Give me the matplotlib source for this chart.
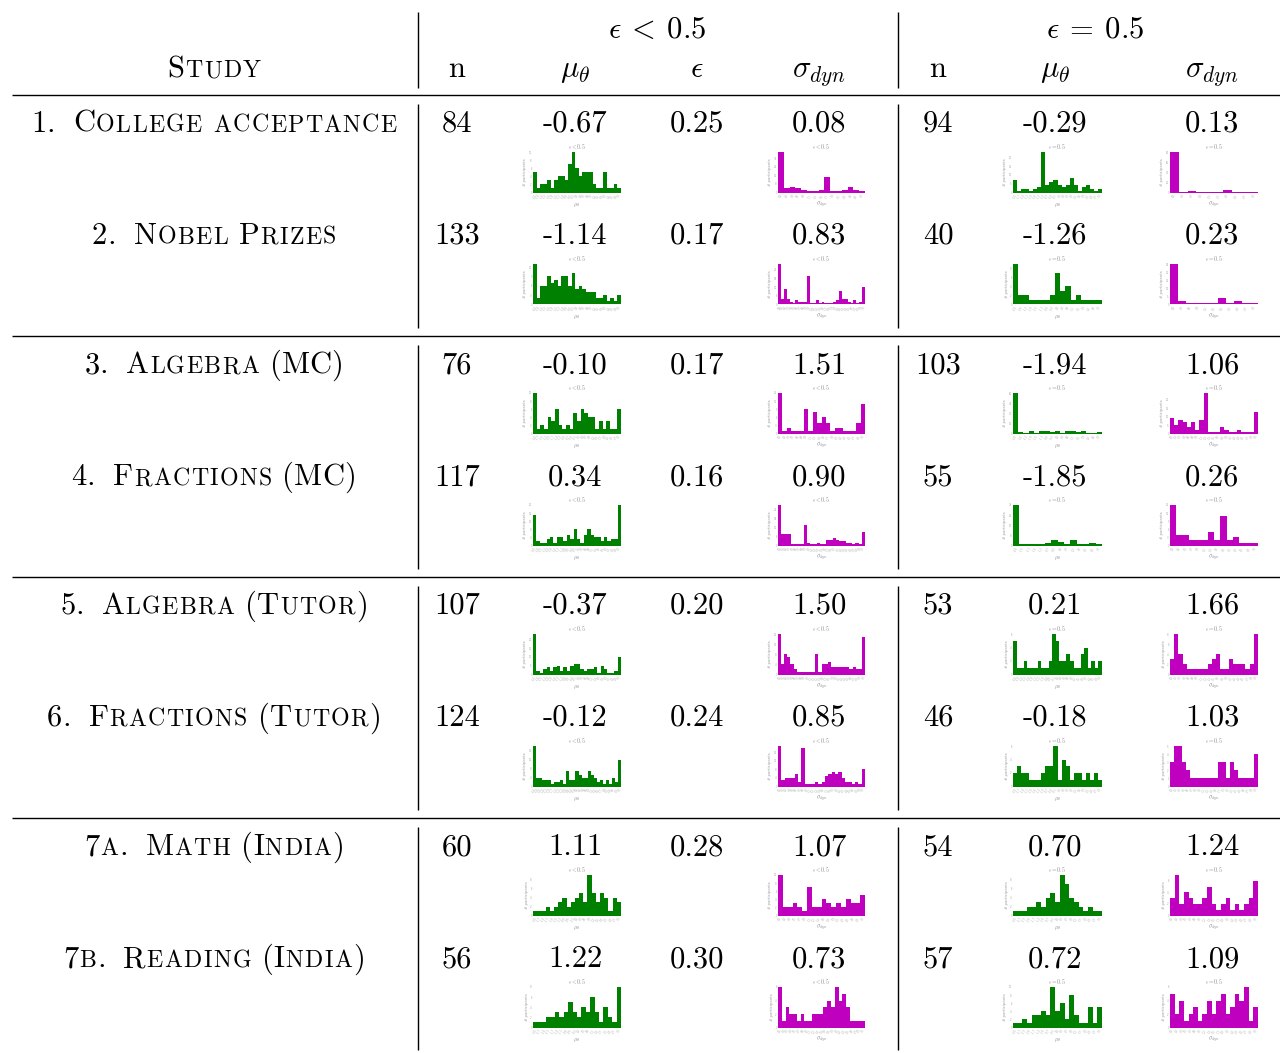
import numpy as np
import matplotlib

matplotlib.use("Agg")
import matplotlib.pyplot as plt
from matplotlib.ticker import MaxNLocator

plt.rcParams["mathtext.fontset"] = "cm"
plt.rcParams["axes.unicode_minus"] = False

W, H = 1280, 1053
FS = 22
GREY = "#8a8a8a"
GREEN = "#008000"
MAGENTA = "#bf00bf"

# table values
STUDIES = ["1. College acceptance", "2. Nobel Prizes", "3. Algebra (MC)",
           "4. Fractions (MC)", "5. Algebra (Tutor)", "6. Fractions (Tutor)",
           "7a. Math (India)", "7b. Reading (India)"]
N_LT = [84, 133, 76, 117, 107, 124, 60, 56]
MU_LT = [-0.67, -1.14, -0.10, 0.34, -0.37, -0.12, 1.11, 1.22]
EPS_LT = [0.25, 0.17, 0.17, 0.16, 0.20, 0.24, 0.28, 0.30]
SIG_LT = [0.08, 0.83, 1.51, 0.90, 1.50, 0.85, 1.07, 0.73]
N_EQ = [94, 40, 103, 55, 53, 46, 54, 57]
MU_EQ = [-0.29, -1.26, -1.94, -1.85, 0.21, -0.18, 0.70, 0.72]
SIG_EQ = [0.13, 0.23, 1.06, 0.26, 1.66, 1.03, 1.24, 1.09]

# histogram counts (participants per bin)
college_mu_lt = [5, 1, 2, 2, 3, 1, 3, 4, 4, 3, 7, 10, 6, 4, 5, 5, 5, 2, 1, 1, 5, 1, 1, 2, 1]
college_sig_lt = [38, 4, 5, 4, 2, 1, 1, 2, 15, 1, 1, 2, 5, 2, 1]
college_mu_eq = [7, 1, 2, 2, 1, 2, 3, 23, 4, 6, 7, 4, 3, 4, 8, 4, 1, 3, 4, 2, 1, 2]
college_sig_eq = [80, 1, 3, 1, 1, 1, 4, 1, 1, 1]

nobel_mu_lt = [13, 2, 6, 6, 9, 7, 8, 6, 9, 9, 6, 10, 5, 6, 5, 4, 4, 4, 2, 2, 3, 1, 2, 1, 3]
nobel_sig_lt = [28, 4, 11, 4, 2, 1, 3, 2, 2, 2, 20, 1, 1, 3, 1, 2, 1, 1, 1, 2, 3, 9, 4, 4, 2,
                1, 3, 1, 2, 12]
nobel_mu_eq = [9, 2, 2, 1, 1, 1, 1, 2, 7, 3, 4, 1, 2, 1, 1, 1, 1]
nobel_sig_eq = [25, 2, 1, 1, 1, 1, 4, 1, 2, 1, 1]

algmc_mu_lt = [10, 1, 2, 1, 4, 3, 6, 2, 1, 2, 1, 5, 3, 6, 5, 4, 4, 1, 3, 1, 3, 1, 1, 6]
algmc_sig_lt = [15, 1, 2, 1, 1, 1, 9, 1, 8, 4, 6, 4, 1, 2, 2, 1, 1, 1, 4, 11]
algmc_mu_eq = [61, 2, 1, 4, 1, 4, 4, 2, 4, 1, 4, 4, 2, 4, 1, 1, 3]
algmc_sig_eq = [9, 5, 8, 7, 4, 7, 2, 8, 24, 1, 1, 1, 4, 2, 1, 1, 2, 1, 1, 1, 13]

fracmc_mu_lt = [15, 2, 1, 1, 3, 4, 1, 4, 4, 2, 5, 3, 8, 3, 1, 5, 8, 5, 4, 4, 2, 4, 2, 3, 3, 20]
fracmc_sig_lt = [27, 8, 8, 8, 1, 1, 1, 1, 14, 2, 1, 1, 2, 1, 1, 4, 4, 5, 4, 3, 3, 2, 2, 1, 2,
                 1, 9]
fracmc_mu_eq = [32, 1, 1, 1, 1, 2, 4, 3, 1, 4, 1, 1, 2, 1]
fracmc_sig_eq = [15, 4, 4, 2, 2, 2, 5, 2, 11, 2, 3, 1, 1, 1]

algtu_mu_lt = [23, 2, 1, 3, 4, 2, 4, 5, 2, 4, 2, 5, 6, 6, 3, 2, 3, 3, 4, 1, 5, 3, 1, 1, 2, 10]
algtu_sig_lt = [16, 4, 8, 7, 4, 2, 1, 1, 1, 1, 1, 1, 8, 1, 4, 4, 5, 3, 3, 3, 3, 3, 3, 2, 3,
                2, 2, 15]
algtu_mu_eq = [5, 1, 1, 2, 1, 1, 1, 2, 1, 1, 2, 6, 5, 2, 2, 3, 2, 1, 1, 3, 4, 1, 2, 1, 2]
algtu_sig_eq = [3, 8, 4, 2, 1, 1, 1, 1, 1, 2, 3, 4, 1, 1, 3, 2, 2, 2, 1, 2, 8]

fractu_mu_lt = [18, 4, 4, 3, 3, 3, 1, 2, 2, 3, 1, 7, 3, 3, 7, 5, 4, 4, 7, 5, 4, 2, 3, 1, 3,
                1, 4, 2, 12]
fractu_sig_lt = [19, 3, 4, 4, 4, 6, 2, 18, 1, 1, 1, 2, 1, 2, 5, 6, 7, 6, 7, 4, 2, 2, 1, 2, 1, 8]
fractu_mu_eq = [2, 3, 2, 2, 1, 1, 1, 2, 3, 3, 6, 1, 4, 3, 1, 2, 2, 1, 2, 1, 2, 1]
fractu_sig_eq = [3, 5, 5, 3, 2, 1, 1, 1, 1, 1, 1, 1, 3, 3, 1, 3, 2, 1, 1, 1, 1, 4]

math_mu_lt = [1, 1, 1, 2, 1, 2, 3, 4, 2, 3, 4, 5, 3, 9, 5, 3, 5, 4, 1, 4, 3]
math_sig_lt = [10, 2, 2, 3, 2, 1, 7, 2, 2, 4, 3, 2, 3, 2, 4, 3, 3, 5]
math_mu_eq = [1, 1, 1, 2, 2, 3, 2, 4, 5, 3, 9, 7, 4, 3, 2, 1, 2, 1, 1]
math_sig_eq = [3, 7, 2, 4, 3, 2, 2, 3, 5, 2, 1, 2, 3, 1, 2, 1, 2, 3, 6]

read_mu_lt = [1, 1, 1, 2, 2, 3, 2, 3, 5, 3, 2, 4, 3, 6, 3, 1, 4, 2, 1, 8]
read_sig_lt = [6, 1, 3, 2, 2, 1, 2, 1, 1, 2, 2, 2, 3, 4, 3, 6, 4, 5, 3, 1, 1, 1, 1]
read_mu_eq = [1, 1, 2, 1, 3, 3, 4, 3, 10, 4, 6, 2, 8, 3, 1, 1, 5, 1, 5]
read_sig_eq = [5, 2, 4, 1, 2, 3, 1, 2, 4, 2, 4, 5, 2, 3, 5, 4, 6, 1, 3]

HISTS = [
    (college_mu_lt, college_sig_lt, college_mu_eq, college_sig_eq),
    (nobel_mu_lt, nobel_sig_lt, nobel_mu_eq, nobel_sig_eq),
    (algmc_mu_lt, algmc_sig_lt, algmc_mu_eq, algmc_sig_eq),
    (fracmc_mu_lt, fracmc_sig_lt, fracmc_mu_eq, fracmc_sig_eq),
    (algtu_mu_lt, algtu_sig_lt, algtu_mu_eq, algtu_sig_eq),
    (fractu_mu_lt, fractu_sig_lt, fractu_mu_eq, fractu_sig_eq),
    (math_mu_lt, math_sig_lt, math_mu_eq, math_sig_eq),
    (read_mu_lt, read_sig_lt, read_mu_eq, read_sig_eq),
]

ROW_Y = [122, 234, 363, 475, 604, 716, 845, 957]
COL_X = {"n1": 457, "mu1": 575, "eps": 697, "sig1": 819, "n2": 938, "mu2": 1055, "sig2": 1212}
HIST_X = [(533, 621), (778, 865), (1013, 1102), (1170, 1258)]

fig = plt.figure(figsize=(W / 100, H / 100), dpi=100)
ax = fig.add_axes([0, 0, 1, 1])
ax.set_xlim(0, W)
ax.set_ylim(H, 0)
ax.axis("off")
renderer = fig.canvas.get_renderer()
_cache = {}


def text_width(s, size):
    key = (s, size)
    if key not in _cache:
        t = ax.text(0, 0, s, fontsize=size, family="cmr10")
        _cache[key] = t.get_window_extent(renderer).width
        t.remove()
    return _cache[key]


def smallcaps(xc, yb, label, size, ratio=0.78, track=1.3, num_gap=18):
    # fake small caps: lowercase letters become smaller capitals, slightly tracked;
    # an enumeration prefix like "1." gets a wider gap before the name
    prefix, name = (label.split(" ", 1) + [""])[:2] if label[0].isdigit() else ("", label)
    parts = []  # (text, size, tracking, gap_after)
    if prefix:
        for ch in prefix:
            sz, c = (size * ratio, ch.upper()) if ch.islower() else (size, ch)
            parts.append([c, sz])
        parts[-1].append("num")
    for ch in name:
        sz, c = (size * ratio, ch.upper()) if ch.islower() else (size, ch)
        parts.append([c, sz])
    # merge into runs of equal size
    runs = []
    for p in parts:
        c, sz = p[0], p[1]
        brk = len(p) > 2
        if runs and runs[-1][1] == sz and not runs[-1][2]:
            runs[-1][0] += c
            runs[-1][2] = brk
        else:
            runs.append([c, sz, brk])
    widths, gaps = [], []
    for s, sz, brk in runs:
        tr = track if sz < size else 0.0
        widths.append(text_width(s, sz) + tr * (len(s) - 1))
        gaps.append(num_gap if brk else 0.8)
    total = sum(widths) + sum(gaps[:-1])
    x = xc - total / 2
    for (s, sz, brk), w, g in zip(runs, widths, gaps):
        tr = track if sz < size else 0.0
        for i, c in enumerate(s):
            if c == " ":
                continue
            off = text_width(s[: i + 1], sz) - text_width(c, sz) + tr * i
            ax.text(x + off, yb, c, fontsize=sz, family="cmr10", ha="left", va="baseline")
        x += w + g


def hist(x0, x1, ytop, ybot, counts, color, title, xlabel, lo, hi):
    hax = fig.add_axes([x0 / W, 1 - ybot / H, (x1 - x0) / W, (ybot - ytop) / H])
    idx = np.arange(len(counts))
    hax.bar(idx, counts, width=1.0, color=color, linewidth=0)
    hax.set_xlim(-0.5, len(counts) - 0.5)
    hax.set_ylim(0, max(counts))
    for sp in hax.spines.values():
        sp.set_visible(False)
    hax.tick_params(length=0, pad=0.8, labelsize=1.8, labelcolor="#a8a8a8")
    hax.set_xticks(idx)
    centers = np.linspace(lo, hi, len(counts))
    hax.set_xticklabels([f"{c:.1f}" for c in centers], rotation=60)
    yt = MaxNLocator(5, integer=True).tick_values(0, max(counts))
    yt = [v for v in yt if v <= max(counts)]
    hax.set_yticks(yt)
    hax.set_yticklabels([str(int(v)) for v in yt])
    hax.set_title(title, fontsize=4.2, color=GREY, pad=2.5)
    hax.set_xlabel(xlabel, fontsize=4.2, color=GREY, labelpad=0.8)
    hax.set_ylabel("# participants", fontsize=2.8, color="#a0a0a0", labelpad=1)


# header
ax.text(657, 38, r"$\epsilon \:<\: 0.5$", fontsize=FS, ha="center", va="baseline")
ax.text(1095, 38, r"$\epsilon \:=\: 0.5$", fontsize=FS, ha="center", va="baseline")
smallcaps(214, 77, "Study", FS)
hdr = [("n1", "n"), ("mu1", r"$\mu_\theta$"), ("eps", r"$\epsilon$"),
       ("sig1", r"$\sigma_{dyn}$"), ("n2", "n"), ("mu2", r"$\mu_\theta$"),
       ("sig2", r"$\sigma_{dyn}$")]
for key, lab in hdr:
    if lab == "n":
        ax.text(COL_X[key], 77, lab, fontsize=FS, family="cmr10", ha="center", va="baseline")
    else:
        ax.text(COL_X[key], 77, lab, fontsize=FS, ha="center", va="baseline")

# rules
for y in [95, 336, 577, 818]:
    ax.plot([12, W], [y, y], color="black", lw=1.0, solid_capstyle="butt")
for x in [418, 898]:
    for ya, yb in [(12, 88), (104, 328), (345, 569), (586, 810), (827, 1050)]:
        ax.plot([x, x], [ya, yb], color="black", lw=1.0, solid_capstyle="butt")

# body
for i, y in enumerate(ROW_Y):
    yb = y + 10
    smallcaps(214, yb, STUDIES[i], FS)
    vals = [("n1", f"{N_LT[i]}"), ("mu1", f"{MU_LT[i]:.2f}"), ("eps", f"{EPS_LT[i]:.2f}"),
            ("sig1", f"{SIG_LT[i]:.2f}"), ("n2", f"{N_EQ[i]}"), ("mu2", f"{MU_EQ[i]:.2f}"),
            ("sig2", f"{SIG_EQ[i]:.2f}")]
    for key, s in vals:
        ax.text(COL_X[key], yb, s, fontsize=FS, family="cmr10", ha="center", va="baseline")

    mu_lt, sig_lt, mu_eq, sig_eq = HISTS[i]
    ytop, ybot = y + 30, y + 70.5
    hist(*HIST_X[0], ytop, ybot, mu_lt, GREEN, r"$\epsilon < 0.5$", r"$\mu_\theta$", -3, 3)
    hist(*HIST_X[1], ytop, ybot, sig_lt, MAGENTA, r"$\epsilon < 0.5$", r"$\sigma_{dyn}$", 0, 3)
    hist(*HIST_X[2], ytop, ybot, mu_eq, GREEN, r"$\epsilon = 0.5$", r"$\mu_\theta$", -3, 3)
    hist(*HIST_X[3], ytop, ybot, sig_eq, MAGENTA, r"$\epsilon = 0.5$", r"$\sigma_{dyn}$", 0, 3)

fig.savefig("out.png", dpi=100)
